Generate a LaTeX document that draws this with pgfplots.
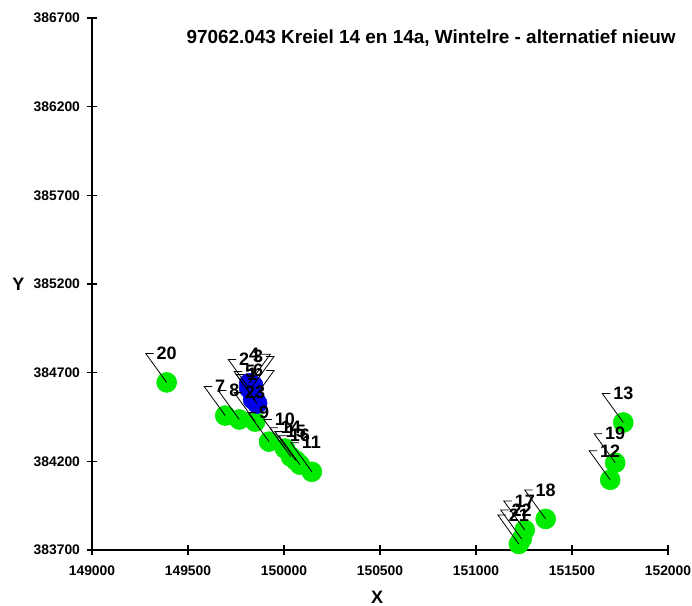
\documentclass[border=0pt]{standalone}
\usepackage{pgfplots}
\pgfplotsset{compat=1.18}
\usepackage{pgfplotstable}
\usepackage{fontspec}
\setmainfont{Liberation Sans}

\definecolor{ptgreen}{RGB}{0,235,0}
\definecolor{ptblue}{RGB}{0,0,230}

% leader marks: dash + line down to the source
\pgfdeclareplotmark{leaderL}{%
  \pgfpathmoveto{\pgfqpoint{-9.75pt}{21.75pt}}%
  \pgfpathlineto{\pgfqpoint{-15.75pt}{21.75pt}}%
  \pgfpathlineto{\pgfqpoint{0pt}{0pt}}%
  \pgfusepathqstroke}
\pgfdeclareplotmark{leaderR}{%
  \pgfpathmoveto{\pgfqpoint{9.75pt}{21.75pt}}%
  \pgfpathlineto{\pgfqpoint{15.75pt}{21.75pt}}%
  \pgfpathlineto{\pgfqpoint{0pt}{0pt}}%
  \pgfusepathqstroke}

% green sources, label to the upper left
\pgfplotstableread{
x y lab
149389 384645 20
149694 384458 7
149767 384436 8
149850 384424 23
149922 384311 9
150005 384272 10
150036 384226 14
150062 384204 15
150083 384181 16
150145 384141 11
151767 384419 13
151725 384192 19
151699 384096 12
151363 383875 18
151254 383813 17
151238 383762 22
151223 383734 21
}\groen

% blue sources, label to the upper left
\pgfplotstableread{
x y lab
149860 384526 1
149819 384611 2
149850 384543 5
}\blauwL

% blue sources, label to the upper right
\pgfplotstableread{
x y lab
149839 384628 3
149819 384640 4
149839 384549 6
}\blauwR

\pgfplotsset{
  labL/.style={only marks, mark=leaderL, mark options={black, line width=0.6pt},
    point meta=explicit symbolic,
    nodes near coords={\rlap{\pgfplotspointmeta}},
    every node near coord/.style={anchor=center, xshift=-7.5pt, yshift=21.75pt, inner sep=0pt,
      font=\fontsize{13.5}{13.5}\selectfont\bfseries, text=black}},
  labR/.style={only marks, mark=leaderR, mark options={black, line width=0.6pt},
    point meta=explicit symbolic,
    nodes near coords={\llap{\pgfplotspointmeta}},
    every node near coord/.style={anchor=center, xshift=7.5pt, yshift=21.75pt, inner sep=0pt,
      font=\fontsize{13.5}{13.5}\selectfont\bfseries, text=black}},
}

\begin{document}
\begin{tikzpicture}
\useasboundingbox (-69pt,-42pt) rectangle (450pt,412.5pt);
\begin{axis}[
  at={(0,0)}, anchor=south west,
  scale only axis, width=432pt, height=399pt,
  xmin=149000, xmax=152000, ymin=383700, ymax=386700,
  axis lines=left, axis line style={-, line width=0.8pt},
  xtick={149000,149500,...,152000},
  ytick={383700,384200,...,386700},
  tick align=center, major tick length=7pt,
  tick style={black, line width=0.8pt},
  scaled ticks=false,
  xticklabel={\pgfmathprintnumber[fixed,precision=0,1000 sep={},assume math mode=true]{\tick}},
  yticklabel={\pgfmathprintnumber[fixed,precision=0,1000 sep={},assume math mode=true]{\tick}},
  tick label style={font=\fontsize{10.4}{12}\selectfont\bfseries},
  xticklabel style={yshift=-5pt},
  yticklabel style={xshift=-2pt},
  title={97062.043 Kreiel 14 en 14a, Wintelre - alternatief nieuw},
  title style={at={(axis description cs:1.0138,0.9624)}, anchor=east, yshift=-6pt,
    inner sep=0pt, font=\fontsize{14.2}{16}\selectfont\bfseries},
  xlabel={X}, ylabel={Y},
  every axis x label/.style={at={(axis description cs:0.495,-0.088)}, anchor=center,
    font=\fontsize{13.5}{15}\selectfont\bfseries},
  every axis y label/.style={at={(axis description cs:-0.128,0.5)}, anchor=center,
    font=\fontsize{13.5}{15}\selectfont\bfseries},
  clip=false,
]
\addplot[only marks, mark=*, mark size=7.5pt, mark options={fill=ptgreen, draw=ptgreen}] table {\groen};
\addplot[only marks, mark=*, mark size=7.5pt, mark options={fill=ptblue, draw=ptblue}] table {\blauwL};
\addplot[only marks, mark=*, mark size=7.5pt, mark options={fill=ptblue, draw=ptblue}] table {\blauwR};
\addplot[labL] table[meta=lab] {\groen};
\addplot[labL] table[meta=lab] {\blauwL};
\addplot[labR] table[meta=lab] {\blauwR};
\end{axis}
\end{tikzpicture}
\end{document}
